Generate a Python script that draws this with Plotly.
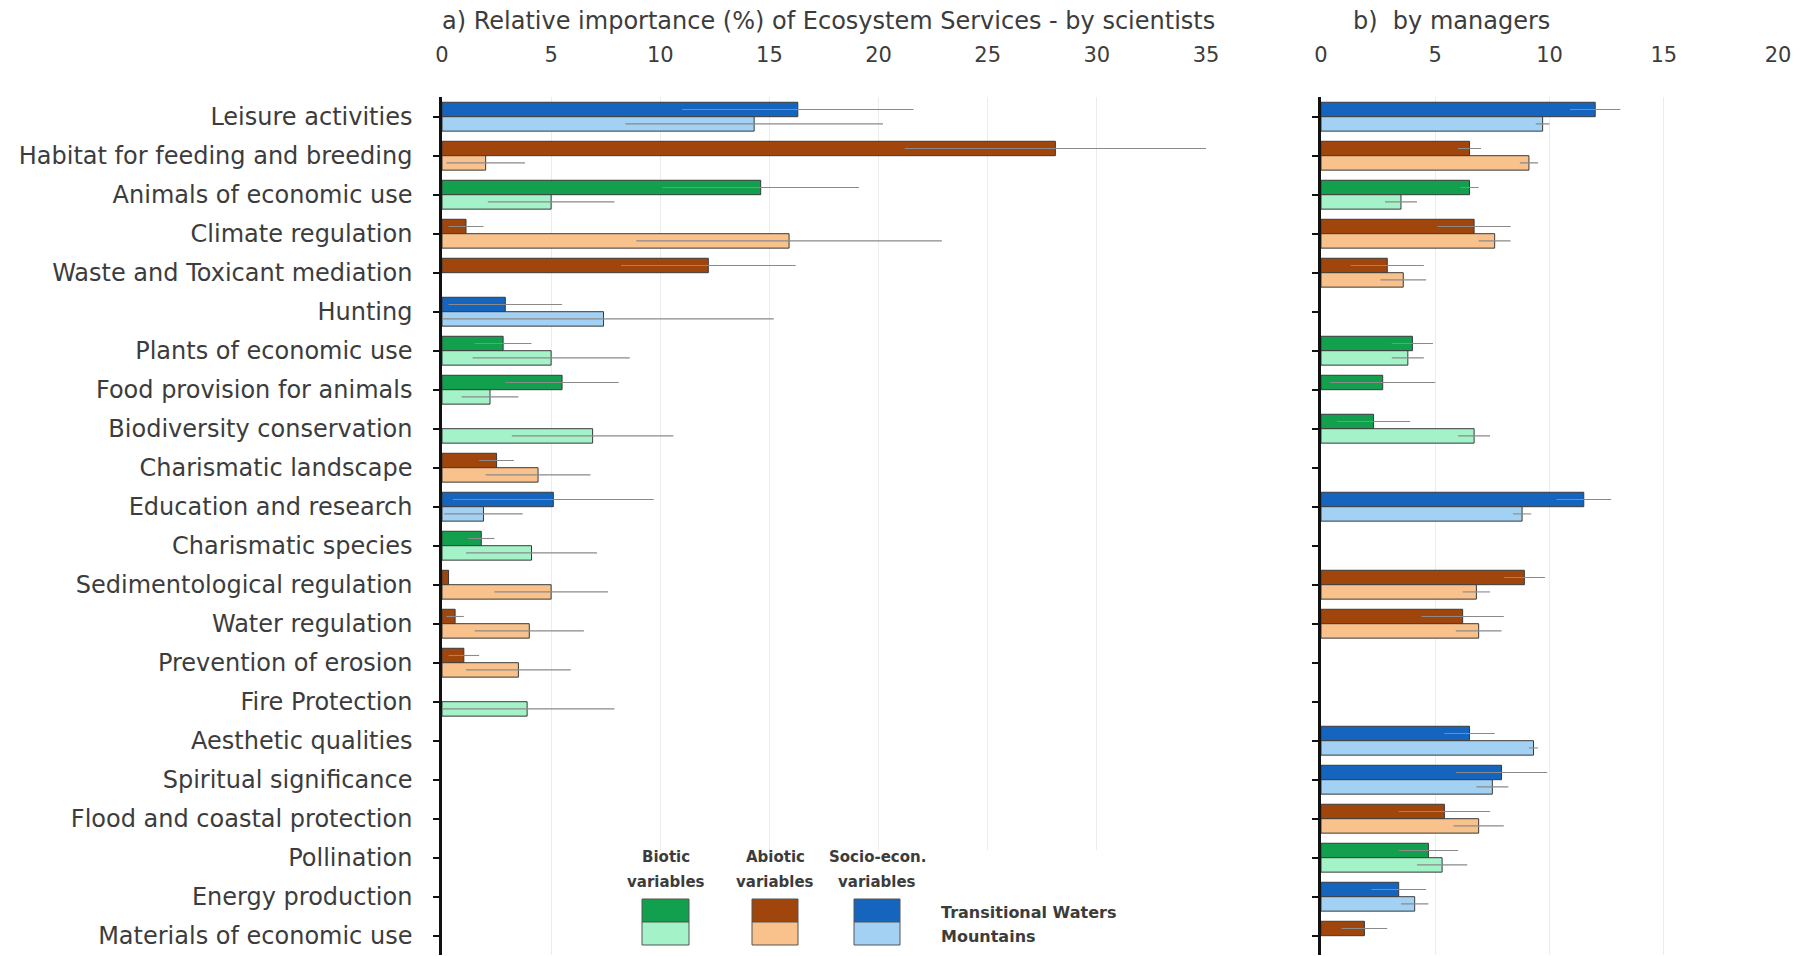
import plotly.graph_objects as go

W, H = 1806, 956

services = [
    "Leisure activities", "Habitat for feeding and breeding", "Animals of economic use",
    "Climate regulation", "Waste and Toxicant mediation", "Hunting", "Plants of economic use",
    "Food provision for animals", "Biodiversity conservation", "Charismatic landscape",
    "Education and research", "Charismatic species", "Sedimentological regulation",
    "Water regulation", "Prevention of erosion", "Fire Protection", "Aesthetic qualities",
    "Spiritual significance", "Flood and coastal protection", "Pollination",
    "Energy production", "Materials of economic use",
]

# group of variables behind each service: B biotic, A abiotic, S socio-economic
driver = ["S", "A", "B", "A", "A", "S", "B", "B", "B", "A", "S",
          "B", "A", "A", "A", "B", "S", "S", "A", "B", "S", "A"]

# a) scientists - mean relative importance (%) and spread
sci_tw = [16.3, 28.1, 14.6, 1.1, 12.2, 2.9, 2.8, 5.5, None, 2.5, 5.1,
          1.8, 0.3, 0.6, 1.0, None, None, None, None, None, None, None]
sci_tw_err = [5.3, 6.9, 4.5, 0.8, 4.0, 2.6, 1.3, 2.6, None, 0.8, 4.6,
              0.6, None, 0.4, 0.7, None, None, None, None, None, None, None]
sci_mt = [14.3, 2.0, 5.0, 15.9, None, 7.4, 5.0, 2.2, 6.9, 4.4, 1.9,
          4.1, 5.0, 4.0, 3.5, 3.9, None, None, None, None, None, None]
sci_mt_err = [5.9, 1.8, 2.9, 7.0, None, 7.8, 3.6, 1.3, 3.7, 2.4, 1.8,
              3.0, 2.6, 2.5, 2.4, 4.0, None, None, None, None, None, None]

# b) managers
mgr_tw = [12.0, 6.5, 6.5, 6.7, 2.9, None, 4.0, 2.7, 2.3, None, 11.5,
          None, 8.9, 6.2, None, None, 6.5, 7.9, 5.4, 4.7, 3.4, 1.9]
mgr_tw_err = [1.1, 0.5, 0.4, 1.6, 1.6, None, 0.9, 2.3, 1.6, None, 1.2,
              None, 0.9, 1.8, None, None, 1.1, 2.0, 2.0, 1.3, 1.2, 1.0]
mgr_mt = [9.7, 9.1, 3.5, 7.6, 3.6, None, 3.8, None, 6.7, None, 8.8,
          None, 6.8, 6.9, None, None, 9.3, 7.5, 6.9, 5.3, 4.1, None]
mgr_mt_err = [0.3, 0.4, 0.7, 0.7, 1.0, None, 0.7, None, 0.7, None, 0.4,
              None, 0.6, 1.0, None, None, 0.2, 0.7, 1.1, 1.1, 0.6, None]

sci_ticks = [0, 5, 10, 15, 20, 25, 30, 35]
mgr_ticks = [0, 5, 10, 15, 20]

colors_tw = {"B": "#12a04e", "A": "#a0460c", "S": "#1565be"}
colors_mt = {"B": "#a4f2c8", "A": "#f9c28c", "S": "#a2d1f4"}
group_titles = [("B", "Biotic", "variables"), ("A", "Abiotic", "variables"),
                ("S", "Socio-econ.", "variables")]

FONT = "DejaVu Sans"
TXT = "#3c3c3c"


def px_x(v):
    return v / W


def px_y(v):
    return 1 - v / H


def bar_trace(values, errors, palette, name, xa, ya):
    return go.Bar(
        y=services, x=values, orientation="h", name=name,
        xaxis=xa, yaxis=ya,
        marker=dict(color=[palette[d] for d in driver],
                    line=dict(color="#3a3a3a", width=1)),
        error_x=dict(type="data", array=errors, symmetric=True,
                     color="#8a8a8a", thickness=1.1, width=0),
        showlegend=False,
    )


fig = go.Figure()
fig.add_trace(bar_trace(sci_tw, sci_tw_err, colors_tw, "Transitional Waters", "x", "y"))
fig.add_trace(bar_trace(sci_mt, sci_mt_err, colors_mt, "Mountains", "x", "y"))
fig.add_trace(bar_trace(mgr_tw, mgr_tw_err, colors_tw, "Transitional Waters", "x2", "y2"))
fig.add_trace(bar_trace(mgr_mt, mgr_mt_err, colors_mt, "Mountains", "x2", "y2"))

ydom = [px_y(955.2), px_y(97.2)]
yrange = [len(services) - 0.5, -0.5]

common_x = dict(side="top", showline=False, ticks="", zeroline=False,
                tickfont=dict(family=FONT, size=21, color=TXT),
                gridcolor="#ececec", gridwidth=1, showgrid=True,
                ticklabelstandoff=30)

fig.update_layout(
    width=W, height=H,
    margin=dict(l=0, r=0, t=0, b=0, autoexpand=False),
    paper_bgcolor="white", plot_bgcolor="white",
    barmode="group", bargap=0.26, bargroupgap=0,
    xaxis=dict(domain=[px_x(442), px_x(1206)], range=[0, 35],
               tickvals=sci_ticks, anchor="y", **common_x),
    xaxis2=dict(domain=[px_x(1321), px_x(1778)], range=[0, 20],
                tickvals=mgr_ticks, anchor="y2", **common_x),
    yaxis=dict(domain=ydom, range=yrange, type="category",
               categoryorder="array", categoryarray=services,
               showline=True, linecolor="#111111", linewidth=2.5,
               ticks="outside", ticklen=6, tickwidth=2, tickcolor="#111111",
               tickfont=dict(family=FONT, size=24, color=TXT),
               ticklabelstandoff=16, showgrid=False, anchor="x"),
    yaxis2=dict(domain=ydom, range=yrange, type="category",
                categoryorder="array", categoryarray=services,
                showline=True, linecolor="#111111", linewidth=2.5,
                ticks="outside", ticklen=6, tickwidth=2, tickcolor="#111111",
                showticklabels=False, showgrid=False, anchor="x2"),
    font=dict(family=FONT, color=TXT),
)

# panel titles
fig.add_annotation(x=px_x(440), y=px_y(21), xref="paper", yref="paper",
                   text="a) Relative importance (%) of Ecosystem Services - by scientists",
                   showarrow=False, xanchor="left", yanchor="middle",
                   font=dict(family=FONT, size=24, color=TXT))
fig.add_annotation(x=px_x(1351), y=px_y(21), xref="paper", yref="paper",
                   text="b)  by managers",
                   showarrow=False, xanchor="left", yanchor="middle",
                   font=dict(family=FONT, size=24, color=TXT))

# key: white panel, colour swatches and labels
fig.add_shape(type="rect", xref="paper", yref="paper", layer="above",
              x0=px_x(612), x1=px_x(1212), y0=px_y(956), y1=px_y(850),
              fillcolor="white", line=dict(width=0))

key_x = {"B": (642, 689), "A": (752, 798), "S": (854, 900)}
for key, line1, line2 in group_titles:
    x0, x1 = key_x[key]
    fig.add_shape(type="rect", xref="paper", yref="paper", layer="above",
                  x0=px_x(x0), x1=px_x(x1), y0=px_y(922), y1=px_y(899),
                  fillcolor=colors_tw[key], line=dict(color="#555555", width=1))
    fig.add_shape(type="rect", xref="paper", yref="paper", layer="above",
                  x0=px_x(x0), x1=px_x(x1), y0=px_y(945), y1=px_y(922),
                  fillcolor=colors_mt[key], line=dict(color="#555555", width=1))
    for txt, yy in [(line1, 857), (line2, 882)]:
        fig.add_annotation(x=px_x((x0 + x1) / 2), y=px_y(yy), xref="paper", yref="paper",
                           text=txt, showarrow=False, xanchor="center", yanchor="middle",
                           font=dict(family=FONT, size=15, color=TXT, weight="bold"))

for txt, yy in [("Transitional Waters", 912), ("Mountains", 936)]:
    fig.add_annotation(x=px_x(939), y=px_y(yy), xref="paper", yref="paper",
                       text=txt, showarrow=False, xanchor="left", yanchor="middle",
                       font=dict(family=FONT, size=16, color=TXT, weight="bold"))

fig.write_html("out.html")
